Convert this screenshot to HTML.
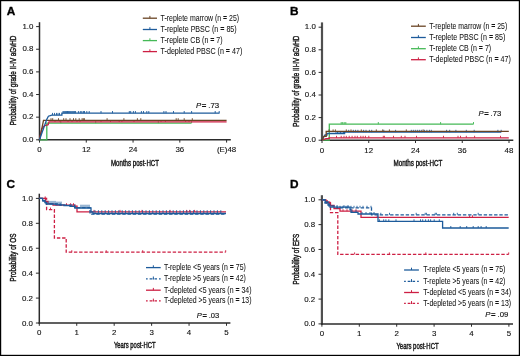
<!DOCTYPE html>
<html><head><meta charset="utf-8"><style>
html,body{margin:0;padding:0;background:#fff;}
svg{display:block;will-change:transform;}
text{font-family:"Liberation Sans", sans-serif;}
</style></head><body>
<svg width="520" height="356" viewBox="0 0 520 356">
<rect x="0" y="0" width="520" height="356" fill="#fff"/>
<text x="6.8" y="15.0" font-size="11.8" text-anchor="start" fill="#000" font-weight="bold" stroke="#000" stroke-width="0.35">A</text>
<line x1="39.5" y1="22.2" x2="39.5" y2="140.60000000000002" stroke="#2b2b2b" stroke-width="1.5"/>
<line x1="38.8" y1="139.8" x2="230.8" y2="139.8" stroke="#2b2b2b" stroke-width="1.5"/>
<line x1="36.1" y1="139.80" x2="39.5" y2="139.80" stroke="#2b2b2b" stroke-width="1"/>
<text x="33.4" y="142.05" font-size="7.9" text-anchor="end" fill="#111" stroke="#111" stroke-width="0.12">0.0</text>
<line x1="36.1" y1="117.16" x2="39.5" y2="117.16" stroke="#2b2b2b" stroke-width="1"/>
<text x="33.4" y="119.41" font-size="7.9" text-anchor="end" fill="#111" stroke="#111" stroke-width="0.12">0.2</text>
<line x1="36.1" y1="94.52" x2="39.5" y2="94.52" stroke="#2b2b2b" stroke-width="1"/>
<text x="33.4" y="96.77" font-size="7.9" text-anchor="end" fill="#111" stroke="#111" stroke-width="0.12">0.4</text>
<line x1="36.1" y1="71.88" x2="39.5" y2="71.88" stroke="#2b2b2b" stroke-width="1"/>
<text x="33.4" y="74.13" font-size="7.9" text-anchor="end" fill="#111" stroke="#111" stroke-width="0.12">0.6</text>
<line x1="36.1" y1="49.24" x2="39.5" y2="49.24" stroke="#2b2b2b" stroke-width="1"/>
<text x="33.4" y="51.49" font-size="7.9" text-anchor="end" fill="#111" stroke="#111" stroke-width="0.12">0.8</text>
<line x1="36.1" y1="26.60" x2="39.5" y2="26.60" stroke="#2b2b2b" stroke-width="1"/>
<text x="33.4" y="28.85" font-size="7.9" text-anchor="end" fill="#111" stroke="#111" stroke-width="0.12">1.0</text>
<line x1="39.50" y1="139.8" x2="39.50" y2="142.60000000000002" stroke="#2b2b2b" stroke-width="1"/>
<text x="39.50" y="152.30" font-size="7.9" text-anchor="middle" fill="#111" stroke="#111" stroke-width="0.12">0</text>
<line x1="86.28" y1="139.8" x2="86.28" y2="142.60000000000002" stroke="#2b2b2b" stroke-width="1"/>
<text x="86.28" y="152.30" font-size="7.9" text-anchor="middle" fill="#111" stroke="#111" stroke-width="0.12">12</text>
<line x1="133.05" y1="139.8" x2="133.05" y2="142.60000000000002" stroke="#2b2b2b" stroke-width="1"/>
<text x="133.05" y="152.30" font-size="7.9" text-anchor="middle" fill="#111" stroke="#111" stroke-width="0.12">24</text>
<line x1="179.82" y1="139.8" x2="179.82" y2="142.60000000000002" stroke="#2b2b2b" stroke-width="1"/>
<text x="179.82" y="152.30" font-size="7.9" text-anchor="middle" fill="#111" stroke="#111" stroke-width="0.12">36</text>
<line x1="226.60" y1="139.8" x2="226.60" y2="142.60000000000002" stroke="#2b2b2b" stroke-width="1"/>
<text x="226.60" y="152.30" font-size="7.9" text-anchor="middle" fill="#111" stroke="#111" stroke-width="0.12">(E)48</text>
<text x="0" y="0" font-size="9.8" fill="#111" transform="translate(16.1,125.2) rotate(-90)" textLength="89.6" lengthAdjust="spacingAndGlyphs" stroke="#1a1a1a" stroke-width="0.45">Probability of grade II-IV aGvHD</text>
<text x="111" y="165.7" font-size="8.9" text-anchor="start" fill="#111" textLength="48" lengthAdjust="spacingAndGlyphs" stroke="#1a1a1a" stroke-width="0.45">Months post-HCT</text>
<line x1="142.8" y1="18.2" x2="157.0" y2="18.2" stroke="#694424" stroke-width="1.3"/>
<line x1="149.90" y1="15.899999999999999" x2="149.90" y2="18.2" stroke="#694424" stroke-width="1"/>
<text x="160.6" y="20.50" font-size="8.2" text-anchor="start" fill="#111" textLength="78.50" lengthAdjust="spacingAndGlyphs" stroke="#1a1a1a" stroke-width="0.05">T-replete marrow (n <tspan font-weight="bold">=</tspan> 25)</text>
<line x1="142.8" y1="29.5" x2="157.0" y2="29.5" stroke="#1d5b9b" stroke-width="1.3"/>
<line x1="149.90" y1="27.2" x2="149.90" y2="29.5" stroke="#1d5b9b" stroke-width="1"/>
<text x="160.6" y="31.80" font-size="8.2" text-anchor="start" fill="#111" textLength="76.10" lengthAdjust="spacingAndGlyphs" stroke="#1a1a1a" stroke-width="0.05">T-replete PBSC (n <tspan font-weight="bold">=</tspan> 85)</text>
<line x1="142.8" y1="40.6" x2="157.0" y2="40.6" stroke="#45b957" stroke-width="1.3"/>
<line x1="149.90" y1="38.300000000000004" x2="149.90" y2="40.6" stroke="#45b957" stroke-width="1"/>
<text x="160.6" y="42.90" font-size="8.2" text-anchor="start" fill="#111" textLength="62.00" lengthAdjust="spacingAndGlyphs" stroke="#1a1a1a" stroke-width="0.05">T-replete CB (n <tspan font-weight="bold">=</tspan> 7)</text>
<line x1="142.8" y1="51.6" x2="157.0" y2="51.6" stroke="#cd1f43" stroke-width="1.3"/>
<line x1="149.90" y1="49.300000000000004" x2="149.90" y2="51.6" stroke="#cd1f43" stroke-width="1"/>
<text x="160.6" y="53.90" font-size="8.2" text-anchor="start" fill="#111" textLength="81.70" lengthAdjust="spacingAndGlyphs" stroke="#1a1a1a" stroke-width="0.05">T-depleted PBSC (n <tspan font-weight="bold">=</tspan> 47)</text>
<text x="195.9" y="107.7" font-size="7.9" fill="#111" stroke="#111" stroke-width="0.15" textLength="23.3" lengthAdjust="spacingAndGlyphs"><tspan font-style="italic">P</tspan><tspan font-weight="bold" dx="0.7">=</tspan><tspan dx="1.9">.73</tspan></text>
<path d="M39.5,139.8 H46.8 V123.2 H191.4" fill="none" stroke="#45b957" stroke-width="1.3"/>
<path d="M60.80,123.20 v-2.2 M95.70,123.20 v-2.2 M158.30,123.20 v-2.2 M191.60,123.20 v-2.2" fill="none" stroke="#45b957" stroke-width="0.9"/>
<path d="M39.5,139.8 L41.7,129 L44,126 L48.2,124.7 L49,121.9 H226.6" fill="none" stroke="#cd1f43" stroke-width="1.3"/>
<path d="M55.00,121.90 v-1.8 M60.00,121.90 v-1.8 M68.00,121.90 v-1.8 M72.00,121.90 v-1.8 M77.00,121.90 v-1.8 M80.00,121.90 v-1.8 M101.00,121.90 v-1.8 M110.50,121.90 v-1.8 M119.20,121.90 v-1.8 M121.90,121.90 v-1.8 M134.00,121.90 v-1.8 M161.00,121.90 v-1.8 M165.40,121.90 v-1.8 M185.60,121.90 v-1.8 M189.00,121.90 v-1.8" fill="none" stroke="#cd1f43" stroke-width="0.9"/>
<path d="M39.5,139.8 L43.5,120.4 H226.6" fill="none" stroke="#694424" stroke-width="1.3"/>
<path d="M51.00,120.40 v-2.2 M52.70,120.40 v-2.2 M58.50,120.40 v-2.2 M63.70,120.40 v-2.2 M66.00,120.40 v-2.2 M70.00,120.40 v-2.2 M73.50,120.40 v-2.2 M75.80,120.40 v-2.2 M79.20,120.40 v-2.2 M82.10,120.40 v-2.2 M83.30,120.40 v-2.2 M84.40,120.40 v-2.2 M107.10,120.40 v-2.2 M123.90,120.40 v-2.2 M137.40,120.40 v-2.2 M140.80,120.40 v-2.2 M176.20,120.40 v-2.2 M178.20,120.40 v-2.2 M184.20,120.40 v-2.2 M192.30,120.40 v-2.2" fill="none" stroke="#694424" stroke-width="0.9"/>
<path d="M39.5,139.8 L46.7,119.5 L48.4,116.2 L51.8,115.1 H61.9 V113.2 H219.5" fill="none" stroke="#1d5b9b" stroke-width="1.3"/>
<path d="M52.50,115.10 v-2.2 M54.50,115.10 v-2.2 M56.50,115.10 v-2.2 M58.00,115.10 v-2.2 M59.50,115.10 v-2.2 M63.00,113.20 v-2.2 M63.90,113.20 v-2.2 M64.80,113.20 v-2.2 M65.70,113.20 v-2.2 M66.60,113.20 v-2.2 M67.50,113.20 v-2.2 M68.40,113.20 v-2.2 M69.30,113.20 v-2.2 M70.20,113.20 v-2.2 M71.10,113.20 v-2.2 M72.00,113.20 v-2.2 M72.90,113.20 v-2.2 M73.80,113.20 v-2.2 M74.70,113.20 v-2.2 M75.60,113.20 v-2.2 M78.40,113.20 v-2.2 M80.30,113.20 v-2.2 M81.80,113.20 v-2.2 M83.40,113.20 v-2.2 M84.50,113.20 v-2.2 M86.80,113.20 v-2.2 M89.20,113.20 v-2.2 M101.00,113.20 v-2.2 M112.50,113.20 v-2.2 M129.30,113.20 v-2.2 M130.70,113.20 v-2.2 M133.40,113.20 v-2.2 M135.40,113.20 v-2.2 M141.40,113.20 v-2.2 M143.50,113.20 v-2.2 M146.80,113.20 v-2.2 M148.80,113.20 v-2.2 M163.90,113.20 v-2.2 M166.00,113.20 v-2.2 M173.50,113.20 v-2.2 M184.20,113.20 v-2.2 M191.60,113.20 v-2.2 M215.20,113.20 v-2.2 M219.20,113.20 v-2.2" fill="none" stroke="#1d5b9b" stroke-width="0.9"/>
<text x="290.1" y="15.0" font-size="11.8" text-anchor="start" fill="#000" font-weight="bold" stroke="#000" stroke-width="0.35">B</text>
<line x1="322.0" y1="22.4" x2="322.0" y2="141.0" stroke="#505050" stroke-width="2.2"/>
<line x1="321.3" y1="140.2" x2="513.3" y2="140.2" stroke="#2b2b2b" stroke-width="1.5"/>
<line x1="318.6" y1="140.20" x2="322.0" y2="140.20" stroke="#2b2b2b" stroke-width="1"/>
<text x="315.8" y="142.45" font-size="7.9" text-anchor="end" fill="#111" stroke="#111" stroke-width="0.12">0.0</text>
<line x1="318.6" y1="117.60" x2="322.0" y2="117.60" stroke="#2b2b2b" stroke-width="1"/>
<text x="315.8" y="119.85" font-size="7.9" text-anchor="end" fill="#111" stroke="#111" stroke-width="0.12">0.2</text>
<line x1="318.6" y1="95.00" x2="322.0" y2="95.00" stroke="#2b2b2b" stroke-width="1"/>
<text x="315.8" y="97.25" font-size="7.9" text-anchor="end" fill="#111" stroke="#111" stroke-width="0.12">0.4</text>
<line x1="318.6" y1="72.40" x2="322.0" y2="72.40" stroke="#2b2b2b" stroke-width="1"/>
<text x="315.8" y="74.65" font-size="7.9" text-anchor="end" fill="#111" stroke="#111" stroke-width="0.12">0.6</text>
<line x1="318.6" y1="49.80" x2="322.0" y2="49.80" stroke="#2b2b2b" stroke-width="1"/>
<text x="315.8" y="52.05" font-size="7.9" text-anchor="end" fill="#111" stroke="#111" stroke-width="0.12">0.8</text>
<line x1="318.6" y1="27.20" x2="322.0" y2="27.20" stroke="#2b2b2b" stroke-width="1"/>
<text x="315.8" y="29.45" font-size="7.9" text-anchor="end" fill="#111" stroke="#111" stroke-width="0.12">1.0</text>
<line x1="322.00" y1="140.2" x2="322.00" y2="143.0" stroke="#2b2b2b" stroke-width="1"/>
<text x="322.00" y="152.60" font-size="7.9" text-anchor="middle" fill="#111" stroke="#111" stroke-width="0.12">0</text>
<line x1="368.75" y1="140.2" x2="368.75" y2="143.0" stroke="#2b2b2b" stroke-width="1"/>
<text x="368.75" y="152.60" font-size="7.9" text-anchor="middle" fill="#111" stroke="#111" stroke-width="0.12">12</text>
<line x1="415.50" y1="140.2" x2="415.50" y2="143.0" stroke="#2b2b2b" stroke-width="1"/>
<text x="415.50" y="152.60" font-size="7.9" text-anchor="middle" fill="#111" stroke="#111" stroke-width="0.12">24</text>
<line x1="462.25" y1="140.2" x2="462.25" y2="143.0" stroke="#2b2b2b" stroke-width="1"/>
<text x="462.25" y="152.60" font-size="7.9" text-anchor="middle" fill="#111" stroke="#111" stroke-width="0.12">36</text>
<line x1="509.00" y1="140.2" x2="509.00" y2="143.0" stroke="#2b2b2b" stroke-width="1"/>
<text x="509.00" y="152.60" font-size="7.9" text-anchor="middle" fill="#111" stroke="#111" stroke-width="0.12">48</text>
<text x="0" y="0" font-size="9.8" fill="#111" transform="translate(298.9,126.8) rotate(-90)" textLength="91.2" lengthAdjust="spacingAndGlyphs" stroke="#1a1a1a" stroke-width="0.45">Probability of grade III-IV aGvHD</text>
<text x="393.5" y="165.5" font-size="8.9" text-anchor="start" fill="#111" textLength="48.8" lengthAdjust="spacingAndGlyphs" stroke="#1a1a1a" stroke-width="0.45">Months post-HCT</text>
<line x1="411.0" y1="26.2" x2="425.8" y2="26.2" stroke="#694424" stroke-width="1.3"/>
<line x1="418.40" y1="23.9" x2="418.40" y2="26.2" stroke="#694424" stroke-width="1"/>
<text x="429.2" y="28.50" font-size="8.2" text-anchor="start" fill="#111" textLength="78.00" lengthAdjust="spacingAndGlyphs" stroke="#1a1a1a" stroke-width="0.05">T-replete marrow (n <tspan font-weight="bold">=</tspan> 25)</text>
<line x1="411.0" y1="37.5" x2="425.8" y2="37.5" stroke="#1d5b9b" stroke-width="1.3"/>
<line x1="418.40" y1="35.2" x2="418.40" y2="37.5" stroke="#1d5b9b" stroke-width="1"/>
<text x="429.2" y="39.80" font-size="8.2" text-anchor="start" fill="#111" textLength="76.10" lengthAdjust="spacingAndGlyphs" stroke="#1a1a1a" stroke-width="0.05">T-replete PBSC (n <tspan font-weight="bold">=</tspan> 85)</text>
<line x1="411.0" y1="48.7" x2="425.8" y2="48.7" stroke="#45b957" stroke-width="1.3"/>
<line x1="418.40" y1="46.400000000000006" x2="418.40" y2="48.7" stroke="#45b957" stroke-width="1"/>
<text x="429.2" y="51.00" font-size="8.2" text-anchor="start" fill="#111" textLength="62.00" lengthAdjust="spacingAndGlyphs" stroke="#1a1a1a" stroke-width="0.05">T-replete CB (n <tspan font-weight="bold">=</tspan> 7)</text>
<line x1="411.0" y1="59.7" x2="425.8" y2="59.7" stroke="#cd1f43" stroke-width="1.3"/>
<line x1="418.40" y1="57.400000000000006" x2="418.40" y2="59.7" stroke="#cd1f43" stroke-width="1"/>
<text x="429.2" y="62.00" font-size="8.2" text-anchor="start" fill="#111" textLength="81.60" lengthAdjust="spacingAndGlyphs" stroke="#1a1a1a" stroke-width="0.05">T-depleted PBSC (n <tspan font-weight="bold">=</tspan> 47)</text>
<text x="478.5" y="115.9" font-size="7.9" fill="#111" stroke="#111" stroke-width="0.15" textLength="22.7" lengthAdjust="spacingAndGlyphs"><tspan font-style="italic">P</tspan><tspan font-weight="bold" dx="0.7">=</tspan><tspan dx="1.9">.73</tspan></text>
<path d="M322.0,140.2 H329.3 V124.2 H473.5" fill="none" stroke="#45b957" stroke-width="1.3"/>
<path d="M341.20,124.20 v-2.2 M342.70,124.20 v-2.2 M344.20,124.20 v-2.2 M345.80,124.20 v-2.2 M378.30,124.20 v-2.2 M440.60,124.20 v-2.2 M473.50,124.20 v-2.2" fill="none" stroke="#45b957" stroke-width="0.9"/>
<path d="M322.0,140.2 L326,138.6 H329 V137.8 H508.8" fill="none" stroke="#cd1f43" stroke-width="1.3"/>
<path d="M336.50,137.80 v-2 M341.20,137.80 v-2 M344.00,137.80 v-2 M346.30,137.80 v-2 M349.20,137.80 v-2 M352.10,137.80 v-2 M355.00,137.80 v-2 M357.30,137.80 v-2 M360.80,137.80 v-2 M363.10,137.80 v-2 M365.40,137.80 v-2 M368.80,137.80 v-2 M383.30,137.80 v-2 M384.40,137.80 v-2 M393.50,137.80 v-2 M401.30,137.80 v-2 M405.00,137.80 v-2 M416.50,137.80 v-2 M443.50,137.80 v-2 M458.00,137.80 v-2 M460.50,137.80 v-2 M466.30,137.80 v-2 M474.60,137.80 v-2 M500.50,137.80 v-2" fill="none" stroke="#cd1f43" stroke-width="0.9"/>
<path d="M322.0,140.2 L325,135 H327 V133.5 H344.6 V132.2 H501.2" fill="none" stroke="#1d5b9b" stroke-width="1.3"/>
<path d="M336.00,133.50 v-2.4 M337.50,133.50 v-2.4 M339.00,133.50 v-2.4 M340.50,133.50 v-2.4 M342.00,133.50 v-2.4 M343.50,133.50 v-2.4 M344.40,133.50 v-2.4 M348.70,132.20 v-2.4 M353.30,132.20 v-2.4 M355.60,132.20 v-2.4 M357.90,132.20 v-2.4 M363.60,132.20 v-2.4 M366.00,132.20 v-2.4 M369.40,132.20 v-2.4 M371.70,132.20 v-2.4 M383.80,132.20 v-2.4 M395.60,132.20 v-2.4 M411.30,132.20 v-2.4 M413.30,132.20 v-2.4 M415.30,132.20 v-2.4 M417.30,132.20 v-2.4 M419.30,132.20 v-2.4 M421.30,132.20 v-2.4 M424.40,132.20 v-2.4 M426.90,132.20 v-2.4 M429.40,132.20 v-2.4 M431.30,132.20 v-2.4 M446.60,132.20 v-2.4 M449.70,132.20 v-2.4 M455.90,132.20 v-2.4 M466.30,132.20 v-2.4 M474.20,132.20 v-2.4 M497.90,132.20 v-2.4 M501.20,132.20 v-2.4" fill="none" stroke="#1d5b9b" stroke-width="0.9"/>
<path d="M322.0,140.2 L323.8,136.3 H326.2 V131.4 H508.8" fill="none" stroke="#694424" stroke-width="1.3"/>
<path d="M329.00,131.40 v-2 M333.10,131.40 v-2 M335.40,131.40 v-2 M346.30,131.40 v-2 M351.00,131.40 v-2 M361.30,131.40 v-2 M376.30,131.40 v-2 M382.70,131.40 v-2 M389.40,131.40 v-2 M406.30,131.40 v-2 M423.10,131.40 v-2" fill="none" stroke="#694424" stroke-width="0.9"/>
<text x="6.4" y="187.6" font-size="11.8" text-anchor="start" fill="#000" font-weight="bold" stroke="#000" stroke-width="0.35">C</text>
<line x1="39.3" y1="193.7" x2="39.3" y2="323.8" stroke="#2b2b2b" stroke-width="1.5"/>
<line x1="38.599999999999994" y1="323.0" x2="230.4" y2="323.0" stroke="#2b2b2b" stroke-width="1.5"/>
<line x1="35.9" y1="323.00" x2="39.3" y2="323.00" stroke="#2b2b2b" stroke-width="1"/>
<text x="32.9" y="325.55" font-size="7.9" text-anchor="end" fill="#111" stroke="#111" stroke-width="0.12">0.0</text>
<line x1="35.9" y1="298.08" x2="39.3" y2="298.08" stroke="#2b2b2b" stroke-width="1"/>
<text x="32.9" y="300.63" font-size="7.9" text-anchor="end" fill="#111" stroke="#111" stroke-width="0.12">0.2</text>
<line x1="35.9" y1="273.16" x2="39.3" y2="273.16" stroke="#2b2b2b" stroke-width="1"/>
<text x="32.9" y="275.71" font-size="7.9" text-anchor="end" fill="#111" stroke="#111" stroke-width="0.12">0.4</text>
<line x1="35.9" y1="248.24" x2="39.3" y2="248.24" stroke="#2b2b2b" stroke-width="1"/>
<text x="32.9" y="250.79" font-size="7.9" text-anchor="end" fill="#111" stroke="#111" stroke-width="0.12">0.6</text>
<line x1="35.9" y1="223.32" x2="39.3" y2="223.32" stroke="#2b2b2b" stroke-width="1"/>
<text x="32.9" y="225.87" font-size="7.9" text-anchor="end" fill="#111" stroke="#111" stroke-width="0.12">0.8</text>
<line x1="35.9" y1="198.40" x2="39.3" y2="198.40" stroke="#2b2b2b" stroke-width="1"/>
<text x="32.9" y="200.95" font-size="7.9" text-anchor="end" fill="#111" stroke="#111" stroke-width="0.12">1.0</text>
<line x1="39.30" y1="323.0" x2="39.30" y2="325.8" stroke="#2b2b2b" stroke-width="1"/>
<text x="39.30" y="335.20" font-size="7.9" text-anchor="middle" fill="#111" stroke="#111" stroke-width="0.12">0</text>
<line x1="76.74" y1="323.0" x2="76.74" y2="325.8" stroke="#2b2b2b" stroke-width="1"/>
<text x="76.74" y="335.20" font-size="7.9" text-anchor="middle" fill="#111" stroke="#111" stroke-width="0.12">1</text>
<line x1="114.18" y1="323.0" x2="114.18" y2="325.8" stroke="#2b2b2b" stroke-width="1"/>
<text x="114.18" y="335.20" font-size="7.9" text-anchor="middle" fill="#111" stroke="#111" stroke-width="0.12">2</text>
<line x1="151.62" y1="323.0" x2="151.62" y2="325.8" stroke="#2b2b2b" stroke-width="1"/>
<text x="151.62" y="335.20" font-size="7.9" text-anchor="middle" fill="#111" stroke="#111" stroke-width="0.12">3</text>
<line x1="189.06" y1="323.0" x2="189.06" y2="325.8" stroke="#2b2b2b" stroke-width="1"/>
<text x="189.06" y="335.20" font-size="7.9" text-anchor="middle" fill="#111" stroke="#111" stroke-width="0.12">4</text>
<line x1="226.50" y1="323.0" x2="226.50" y2="325.8" stroke="#2b2b2b" stroke-width="1"/>
<text x="226.50" y="335.20" font-size="7.9" text-anchor="middle" fill="#111" stroke="#111" stroke-width="0.12">5</text>
<text x="0" y="0" font-size="9.8" fill="#111" transform="translate(16.1,281.5) rotate(-90)" textLength="48.1" lengthAdjust="spacingAndGlyphs" stroke="#1a1a1a" stroke-width="0.45">Probability of OS</text>
<text x="113.9" y="348.3" font-size="8.9" text-anchor="start" fill="#111" textLength="41.6" lengthAdjust="spacingAndGlyphs" stroke="#1a1a1a" stroke-width="0.45">Years post-HCT</text>
<line x1="146.0" y1="267.6" x2="160.7" y2="267.6" stroke="#1d5b9b" stroke-width="1.3"/>
<line x1="153.35" y1="265.3" x2="153.35" y2="267.6" stroke="#1d5b9b" stroke-width="1"/>
<text x="163.9" y="269.90" font-size="8.2" text-anchor="start" fill="#111" textLength="81.90" lengthAdjust="spacingAndGlyphs" stroke="#1a1a1a" stroke-width="0.05">T-replete &lt;5 years (n <tspan font-weight="bold">=</tspan> 75)</text>
<line x1="146.0" y1="278.8" x2="160.7" y2="278.8" stroke="#1d5b9b" stroke-width="1.3" stroke-dasharray="1.7,1.9,2.7,0.5,1.2,0.5,2.5,2.0,1.7"/>
<line x1="153.35" y1="276.5" x2="153.35" y2="278.8" stroke="#1d5b9b" stroke-width="1"/>
<text x="163.9" y="281.10" font-size="8.2" text-anchor="start" fill="#111" textLength="81.90" lengthAdjust="spacingAndGlyphs" stroke="#1a1a1a" stroke-width="0.05">T-replete &gt;5 years (n <tspan font-weight="bold">=</tspan> 42)</text>
<line x1="146.0" y1="290.2" x2="160.7" y2="290.2" stroke="#cd1f43" stroke-width="1.3"/>
<line x1="153.35" y1="287.9" x2="153.35" y2="290.2" stroke="#cd1f43" stroke-width="1"/>
<text x="163.9" y="292.50" font-size="8.2" text-anchor="start" fill="#111" textLength="87.60" lengthAdjust="spacingAndGlyphs" stroke="#1a1a1a" stroke-width="0.05">T-depleted &lt;5 years (n <tspan font-weight="bold">=</tspan> 34)</text>
<line x1="146.0" y1="300.9" x2="160.7" y2="300.9" stroke="#cd1f43" stroke-width="1.3" stroke-dasharray="1.7,1.9,2.7,0.5,1.2,0.5,2.5,2.0,1.7"/>
<line x1="153.35" y1="298.59999999999997" x2="153.35" y2="300.9" stroke="#cd1f43" stroke-width="1"/>
<text x="163.9" y="303.20" font-size="8.2" text-anchor="start" fill="#111" textLength="87.60" lengthAdjust="spacingAndGlyphs" stroke="#1a1a1a" stroke-width="0.05">T-depleted &gt;5 years (n <tspan font-weight="bold">=</tspan> 13)</text>
<text x="196.7" y="317.7" font-size="7.9" fill="#111" stroke="#111" stroke-width="0.15" textLength="22.5" lengthAdjust="spacingAndGlyphs"><tspan font-style="italic">P</tspan><tspan font-weight="bold" dx="0.7">=</tspan><tspan dx="1.9">.03</tspan></text>
<path d="M39.3,198.4 H46.6 V209.6 H54.4 V238 H66.2 V252.2 H225.7" fill="none" stroke="#cd1f43" stroke-width="1.3" stroke-dasharray="3.4,1.8"/>
<path d="M50.50,209.60 v-2 M71.80,252.20 v-2 M106.20,252.20 v-2 M142.70,252.20 v-2 M225.70,252.20 v-2" fill="none" stroke="#cd1f43" stroke-width="0.9"/>
<path d="M39.3,198.4 H45.6 V201.5 H48 V203.6 H53 V205.2 H75 V207 H77 V211.9 H226" fill="none" stroke="#cd1f43" stroke-width="1.3"/>
<path d="M45.20,198.40 v-2 M66.50,205.20 v-2 M70.60,205.20 v-2 M73.50,205.20 v-2 M76.90,207.00 v-2 M94.00,211.90 v-2 M120.00,211.90 v-2 M142.00,211.90 v-2 M170.00,211.90 v-2 M186.60,211.90 v-2 M189.60,211.90 v-2 M194.60,211.90 v-2" fill="none" stroke="#cd1f43" stroke-width="0.9"/>
<path d="M39.3,198.4 H43 V201 H46 V203.8 H60 V205.2 H74.6 V207.6 H90 V214.2 H226" fill="none" stroke="#1d5b9b" stroke-width="1.3" stroke-dasharray="3.4,1.8"/>
<path d="M39.3,198.4 H42.6 V200.5 H44.9 V202.5 H46.8 V204.2 H56 V204.9 H64 V205.6 H70 V206.3 H75 V208 H91 V212 H93 V213.5 H226" fill="none" stroke="#1d5b9b" stroke-width="1.3"/>
<path d="M49.00,204.20 v-3.3 M51.00,204.20 v-3.3 M53.00,204.20 v-3.3 M55.00,204.20 v-3.3 M57.00,204.90 v-3.3 M59.00,204.90 v-3.3 M61.00,204.90 v-3.3 M81.00,208.00 v-3.3 M83.00,208.00 v-3.3 M85.00,208.00 v-3.3 M87.00,208.00 v-3.3 M89.00,208.00 v-3.3 M95.00,213.50 v-3.3 M98.40,213.50 v-3.3 M101.80,213.50 v-3.3 M105.20,213.50 v-3.3 M108.60,213.50 v-3.3 M112.00,213.50 v-3.3 M115.40,213.50 v-3.3 M118.80,213.50 v-3.3 M122.20,213.50 v-3.3 M125.60,213.50 v-3.3 M129.00,213.50 v-3.3 M132.40,213.50 v-3.3 M135.80,213.50 v-3.3 M139.20,213.50 v-3.3 M142.60,213.50 v-3.3 M146.00,213.50 v-3.3 M149.40,213.50 v-3.3 M152.80,213.50 v-3.3 M156.20,213.50 v-3.3 M159.60,213.50 v-3.3 M163.00,213.50 v-3.3 M166.40,213.50 v-3.3 M169.80,213.50 v-3.3 M173.20,213.50 v-3.3 M176.60,213.50 v-3.3 M180.00,213.50 v-3.3 M183.40,213.50 v-3.3 M186.80,213.50 v-3.3 M190.20,213.50 v-3.3 M193.60,213.50 v-3.3 M197.00,213.50 v-3.3 M200.40,213.50 v-3.3 M203.80,213.50 v-3.3 M207.20,213.50 v-3.3 M210.60,213.50 v-3.3 M214.00,213.50 v-3.3 M217.40,213.50 v-3.3 M220.80,213.50 v-3.3" fill="none" stroke="#1d5b9b" stroke-width="0.9"/>
<text x="290.1" y="187.5" font-size="11.8" text-anchor="start" fill="#000" font-weight="bold" stroke="#000" stroke-width="0.35">D</text>
<line x1="321.9" y1="195.2" x2="321.9" y2="324.7" stroke="#505050" stroke-width="2.2"/>
<line x1="321.2" y1="323.9" x2="513.0" y2="323.9" stroke="#2b2b2b" stroke-width="1.5"/>
<line x1="318.5" y1="323.90" x2="321.9" y2="323.90" stroke="#2b2b2b" stroke-width="1"/>
<text x="315.2" y="326.45" font-size="7.9" text-anchor="end" fill="#111" stroke="#111" stroke-width="0.12">0.0</text>
<line x1="318.5" y1="299.08" x2="321.9" y2="299.08" stroke="#2b2b2b" stroke-width="1"/>
<text x="315.2" y="301.63" font-size="7.9" text-anchor="end" fill="#111" stroke="#111" stroke-width="0.12">0.2</text>
<line x1="318.5" y1="274.26" x2="321.9" y2="274.26" stroke="#2b2b2b" stroke-width="1"/>
<text x="315.2" y="276.81" font-size="7.9" text-anchor="end" fill="#111" stroke="#111" stroke-width="0.12">0.4</text>
<line x1="318.5" y1="249.44" x2="321.9" y2="249.44" stroke="#2b2b2b" stroke-width="1"/>
<text x="315.2" y="251.99" font-size="7.9" text-anchor="end" fill="#111" stroke="#111" stroke-width="0.12">0.6</text>
<line x1="318.5" y1="224.62" x2="321.9" y2="224.62" stroke="#2b2b2b" stroke-width="1"/>
<text x="315.2" y="227.17" font-size="7.9" text-anchor="end" fill="#111" stroke="#111" stroke-width="0.12">0.8</text>
<line x1="318.5" y1="199.80" x2="321.9" y2="199.80" stroke="#2b2b2b" stroke-width="1"/>
<text x="315.2" y="202.35" font-size="7.9" text-anchor="end" fill="#111" stroke="#111" stroke-width="0.12">1.0</text>
<line x1="321.90" y1="323.9" x2="321.90" y2="326.7" stroke="#2b2b2b" stroke-width="1"/>
<text x="321.90" y="336.30" font-size="7.9" text-anchor="middle" fill="#111" stroke="#111" stroke-width="0.12">0</text>
<line x1="359.30" y1="323.9" x2="359.30" y2="326.7" stroke="#2b2b2b" stroke-width="1"/>
<text x="359.30" y="336.30" font-size="7.9" text-anchor="middle" fill="#111" stroke="#111" stroke-width="0.12">1</text>
<line x1="396.70" y1="323.9" x2="396.70" y2="326.7" stroke="#2b2b2b" stroke-width="1"/>
<text x="396.70" y="336.30" font-size="7.9" text-anchor="middle" fill="#111" stroke="#111" stroke-width="0.12">2</text>
<line x1="434.10" y1="323.9" x2="434.10" y2="326.7" stroke="#2b2b2b" stroke-width="1"/>
<text x="434.10" y="336.30" font-size="7.9" text-anchor="middle" fill="#111" stroke="#111" stroke-width="0.12">3</text>
<line x1="471.50" y1="323.9" x2="471.50" y2="326.7" stroke="#2b2b2b" stroke-width="1"/>
<text x="471.50" y="336.30" font-size="7.9" text-anchor="middle" fill="#111" stroke="#111" stroke-width="0.12">4</text>
<line x1="508.90" y1="323.9" x2="508.90" y2="326.7" stroke="#2b2b2b" stroke-width="1"/>
<text x="508.90" y="336.30" font-size="7.9" text-anchor="middle" fill="#111" stroke="#111" stroke-width="0.12">5</text>
<text x="0" y="0" font-size="9.8" fill="#111" transform="translate(298.6,284.6) rotate(-90)" textLength="50.9" lengthAdjust="spacingAndGlyphs" stroke="#1a1a1a" stroke-width="0.45">Probability of EFS</text>
<text x="396.4" y="348.8" font-size="8.9" text-anchor="start" fill="#111" textLength="42.2" lengthAdjust="spacingAndGlyphs" stroke="#1a1a1a" stroke-width="0.45">Years post-HCT</text>
<line x1="404.1" y1="270.0" x2="418.9" y2="270.0" stroke="#1d5b9b" stroke-width="1.3"/>
<line x1="411.50" y1="267.7" x2="411.50" y2="270.0" stroke="#1d5b9b" stroke-width="1"/>
<text x="423.2" y="272.30" font-size="8.2" text-anchor="start" fill="#111" textLength="82.10" lengthAdjust="spacingAndGlyphs" stroke="#1a1a1a" stroke-width="0.05">T-replete &lt;5 years (n <tspan font-weight="bold">=</tspan> 75)</text>
<line x1="404.1" y1="281.4" x2="418.9" y2="281.4" stroke="#1d5b9b" stroke-width="1.3" stroke-dasharray="1.7,1.9,2.7,0.5,1.2,0.5,2.5,2.0,1.7"/>
<line x1="411.50" y1="279.09999999999997" x2="411.50" y2="281.4" stroke="#1d5b9b" stroke-width="1"/>
<text x="423.2" y="283.70" font-size="8.2" text-anchor="start" fill="#111" textLength="82.10" lengthAdjust="spacingAndGlyphs" stroke="#1a1a1a" stroke-width="0.05">T-replete &gt;5 years (n <tspan font-weight="bold">=</tspan> 42)</text>
<line x1="404.1" y1="292.5" x2="418.9" y2="292.5" stroke="#cd1f43" stroke-width="1.3"/>
<line x1="411.50" y1="290.2" x2="411.50" y2="292.5" stroke="#cd1f43" stroke-width="1"/>
<text x="423.2" y="294.80" font-size="8.2" text-anchor="start" fill="#111" textLength="88.00" lengthAdjust="spacingAndGlyphs" stroke="#1a1a1a" stroke-width="0.05">T-depleted &lt;5 years (n <tspan font-weight="bold">=</tspan> 34)</text>
<line x1="404.1" y1="303.4" x2="418.9" y2="303.4" stroke="#cd1f43" stroke-width="1.3" stroke-dasharray="1.7,1.9,2.7,0.5,1.2,0.5,2.5,2.0,1.7"/>
<line x1="411.50" y1="301.09999999999997" x2="411.50" y2="303.4" stroke="#cd1f43" stroke-width="1"/>
<text x="423.2" y="305.70" font-size="8.2" text-anchor="start" fill="#111" textLength="88.00" lengthAdjust="spacingAndGlyphs" stroke="#1a1a1a" stroke-width="0.05">T-depleted &gt;5 years (n <tspan font-weight="bold">=</tspan> 13)</text>
<text x="485.2" y="317.4" font-size="7.9" fill="#111" stroke="#111" stroke-width="0.15" textLength="23.1" lengthAdjust="spacingAndGlyphs"><tspan font-style="italic">P</tspan><tspan font-weight="bold" dx="0.7">=</tspan><tspan dx="1.9">.09</tspan></text>
<path d="M321.9,199.8 H327 V203 H330.5 V212.7 H337.8 V254.4 H508.7" fill="none" stroke="#cd1f43" stroke-width="1.3" stroke-dasharray="3.4,1.8"/>
<path d="M329.00,203.00 v-2 M354.60,254.40 v-2 M389.40,254.40 v-2 M425.80,254.40 v-2 M508.70,254.40 v-2" fill="none" stroke="#cd1f43" stroke-width="0.9"/>
<path d="M321.9,199.8 H326 V202.5 H330 V205.5 H334 V208.5 H340 V211.2 H361 V217.3 H508.7" fill="none" stroke="#cd1f43" stroke-width="1.3"/>
<path d="M327.00,202.50 v-2 M343.00,211.20 v-2 M347.00,211.20 v-2 M352.00,211.20 v-2 M356.00,211.20 v-2 M377.20,217.30 v-2 M469.60,217.30 v-2 M472.50,217.30 v-2" fill="none" stroke="#cd1f43" stroke-width="0.9"/>
<path d="M321.9,199.8 H325 V203 H329 V206 H337 V207.8 H371.5 V214.8 H508.7" fill="none" stroke="#1d5b9b" stroke-width="1.3" stroke-dasharray="3.4,1.8"/>
<path d="M340.00,207.80 v-2 M343.00,207.80 v-2 M346.00,207.80 v-2 M348.00,207.80 v-2 M351.00,207.80 v-2 M354.00,207.80 v-2 M357.00,207.80 v-2 M360.00,207.80 v-2 M363.00,207.80 v-2 M367.00,207.80 v-2 M371.00,207.80 v-2 M380.80,214.80 v-2 M389.50,214.80 v-2 M416.20,214.80 v-2 M425.20,214.80 v-2 M426.40,214.80 v-2 M435.20,214.80 v-2 M436.40,214.80 v-2 M453.70,214.80 v-2 M457.30,214.80 v-2 M478.20,214.80 v-2" fill="none" stroke="#1d5b9b" stroke-width="0.9"/>
<path d="M321.9,199.8 H325.2 V202 H328 V205 H330 V207.2 H350 V209.5 H351 V212.3 H358 V214 H378 V221.3 H442.6 V228.0 H508.7" fill="none" stroke="#1d5b9b" stroke-width="1.3"/>
<path d="M344.00,207.20 v-2 M348.00,207.20 v-2 M352.00,212.30 v-2 M356.00,212.30 v-2 M362.00,214.00 v-2 M366.00,214.00 v-2 M370.00,214.00 v-2 M374.00,214.00 v-2 M379.40,221.30 v-2 M383.70,221.30 v-2 M385.90,221.30 v-2 M388.80,221.30 v-2 M396.00,221.30 v-2 M414.00,221.30 v-2 M420.50,221.30 v-2 M422.70,221.30 v-2 M425.60,221.30 v-2 M428.40,221.30 v-2 M430.60,221.30 v-2 M434.20,221.30 v-2 M439.30,221.30 v-2 M450.80,228.00 v-2 M460.20,228.00 v-2 M466.70,228.00 v-2 M473.20,228.00 v-2 M478.20,228.00 v-2 M481.10,228.00 v-2 M486.20,228.00 v-2" fill="none" stroke="#1d5b9b" stroke-width="0.9"/>
<rect x="0.6" y="0.6" width="518.8" height="354.8" fill="none" stroke="#000" stroke-width="1.2"/>
</svg>
</body></html>
